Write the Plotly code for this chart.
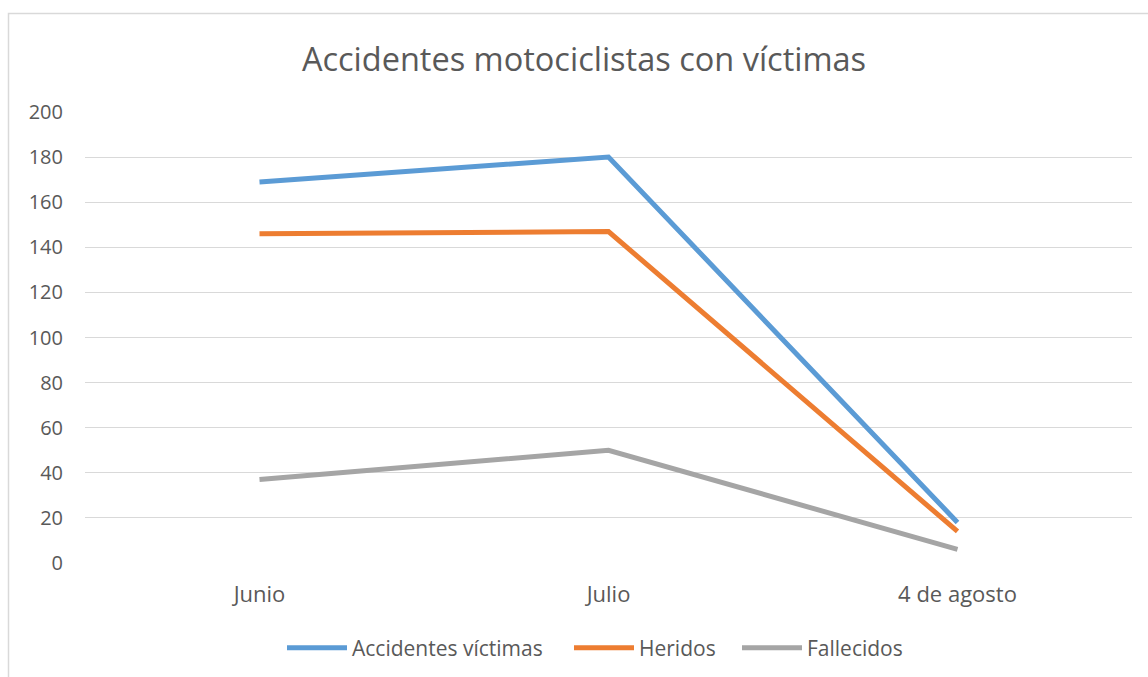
import plotly.graph_objects as go

categories = ["Junio", "Julio", "4 de agosto"]
accidentes = [169, 180, 18]
heridos = [146, 147, 14]
fallecidos = [37, 50, 6]
series_names = ["Accidentes víctimas", "Heridos", "Fallecidos"]
colors = ["#5B9BD5", "#ED7D31", "#A5A5A5"]
y_ticks = [0, 20, 40, 60, 80, 100, 120, 140, 160, 180, 200]

FONT = "Open Sans"
TXT = "#595959"

W, H = 1148, 677
L, R, T, B = 85, 16, 112, 114
pw, ph = W - L - R, H - T - B

def px_x(p):
    return (p - L) / pw

def px_y(p):
    return (H - B - p) / ph

legend_ids = ["legend", "legend2", "legend3"]
legend_left = [282, 569, 737]

fig = go.Figure()
for name, vals, col, lg in zip(series_names, [accidentes, heridos, fallecidos], colors, legend_ids):
    fig.add_trace(go.Scatter(
        x=categories, y=vals, mode="lines", name=name, legend=lg,
        line=dict(color=col, width=5),
    ))

legend_style = dict(orientation="h", xanchor="left", yanchor="middle",
                    y=px_y(648), font=dict(size=21, color=TXT, family=FONT),
                    itemwidth=60, bgcolor="rgba(0,0,0,0)")

fig.update_layout(
    width=W, height=H,
    margin=dict(l=L, r=R, t=T, b=B, autoexpand=False),
    paper_bgcolor="white", plot_bgcolor="white",
    font=dict(family=FONT, color=TXT, size=19),
    title=dict(text="Accidentes motociclistas con víctimas",
               x=584 / W, xref="container", xanchor="center",
               y=1 - 60 / H, yref="container", yanchor="middle",
               font=dict(size=32.5, color=TXT, family=FONT)),
    showlegend=True,
    legend=dict(x=px_x(legend_left[0]), **legend_style),
    legend2=dict(x=px_x(legend_left[1]), **legend_style),
    legend3=dict(x=px_x(legend_left[2]), **legend_style),
    xaxis=dict(type="category", range=[-0.5, 2.5], showgrid=False,
               showline=False, zeroline=False, ticks="",
               tickfont=dict(size=22, color=TXT), ticklabelstandoff=16),
    yaxis=dict(range=[0, 200], tickvals=y_ticks, showgrid=True,
               gridcolor="#D9D9D9", gridwidth=1, zeroline=False,
               showline=False, ticks="",
               tickfont=dict(size=20, color=TXT), ticklabelstandoff=21),
    shapes=[dict(type="rect", xref="paper", yref="paper",
                 x0=px_x(8.5), x1=px_x(1160), y0=px_y(700), y1=px_y(13.5),
                 line=dict(color="#D9D9D9", width=1.5), layer="below")],
)

fig.write_html("out.html", config={"displayModeBar": False},
               post_script="document.body.style.margin='0';document.body.style.overflow='hidden';")
